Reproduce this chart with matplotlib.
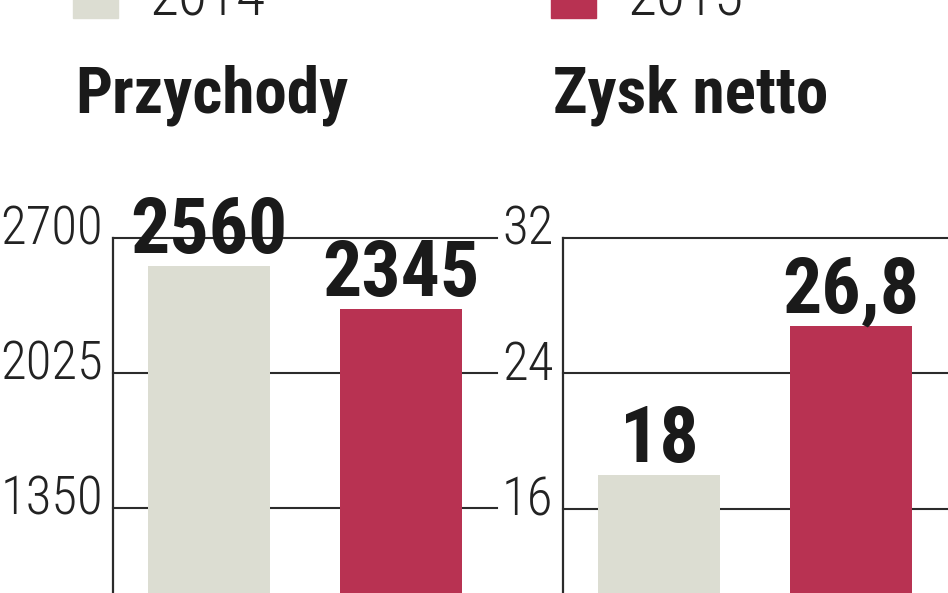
import matplotlib
matplotlib.use("Agg")
import matplotlib.pyplot as plt
from matplotlib.patches import Rectangle

# ---- data ----
series_labels = ["2014", "2015"]
revenue = [2560, 2345]
revenue_labels = ["2560", "2345"]
revenue_ticks = [1350, 2025, 2700]
profit = [18, 26.8]
profit_labels = ["18", "26,8"]
profit_ticks = [16, 24, 32]
titles = ["Przychody", "Zysk netto"]

colors = ["#dcddd2", "#b83252"]
line_col = "#2b2b2b"
FONT = ["Roboto Condensed", "Liberation Sans Narrow", "Roboto"]
ST = "condensed"

W, H = 948, 593
fig = plt.figure(figsize=(W / 100, H / 100), dpi=100)

def fx(px):
    return px / W

def fy(py):
    return 1 - py / H

ax_top = 238
axes_specs = [
    (113, revenue, revenue_labels, revenue_ticks, (925, 2700)),
    (563, profit, profit_labels, profit_ticks, (11.04, 32)),
]

for i, (x0, vals, labs, ticks, ylim) in enumerate(axes_specs):
    ax = fig.add_axes([fx(x0), 0, fx(384), fy(ax_top)])
    ax.set_xlim(-0.5, 1.5)
    ax.set_ylim(*ylim)
    for t in ticks:
        ax.axhline(t, color=line_col, lw=1.5, zorder=0, clip_on=False)
    ax.bar(range(len(vals)), vals, width=0.635, color=colors, zorder=2)
    for s in ["top", "right", "bottom"]:
        ax.spines[s].set_visible(False)
    ax.spines["left"].set_color(line_col)
    ax.spines["left"].set_linewidth(1.6)
    ax.set_xticks([])
    ax.set_yticks([])
    for t in ticks:
        ax.annotate(str(t), xy=(0, t), xycoords=("axes fraction", "data"),
                    xytext=(-7, -5), textcoords="offset points",
                    ha="right", va="baseline", fontsize=38, family=FONT,
                    fontstretch=ST, fontweight="light",
                    color="#222222", annotation_clip=False)
    for j, (v, lab) in enumerate(zip(vals, labs)):
        ax.annotate(lab, xy=(j, v), xytext=(0, 9.5), textcoords="offset points",
                    ha="center", va="baseline", fontsize=56, fontweight="bold",
                    family=FONT, fontstretch=ST, color="#1a1a1a",
                    annotation_clip=False, zorder=5)

# titles
fig.text(fx(75), fy(112), titles[0], fontsize=47, fontweight="bold",
         family=FONT, fontstretch=ST, color="#1a1a1a", ha="left", va="baseline")
fig.text(fx(553), fy(112), titles[1], fontsize=47, fontweight="bold",
         family=FONT, fontstretch=ST, color="#1a1a1a", ha="left", va="baseline")

# legend (cut at top)
for (sx, tx), lab, c in zip([(73, 150), (551, 628)], series_labels, colors):
    fig.add_artist(Rectangle((fx(sx), fy(18)), fx(45), 45 / H,
                             transform=fig.transFigure, color=c, clip_on=False))
    fig.text(fx(tx), fy(16), lab, fontsize=43, family=FONT, fontstretch=ST,
             fontweight="light", color="#222222", ha="left", va="baseline")

fig.savefig("out.png", dpi=100)
